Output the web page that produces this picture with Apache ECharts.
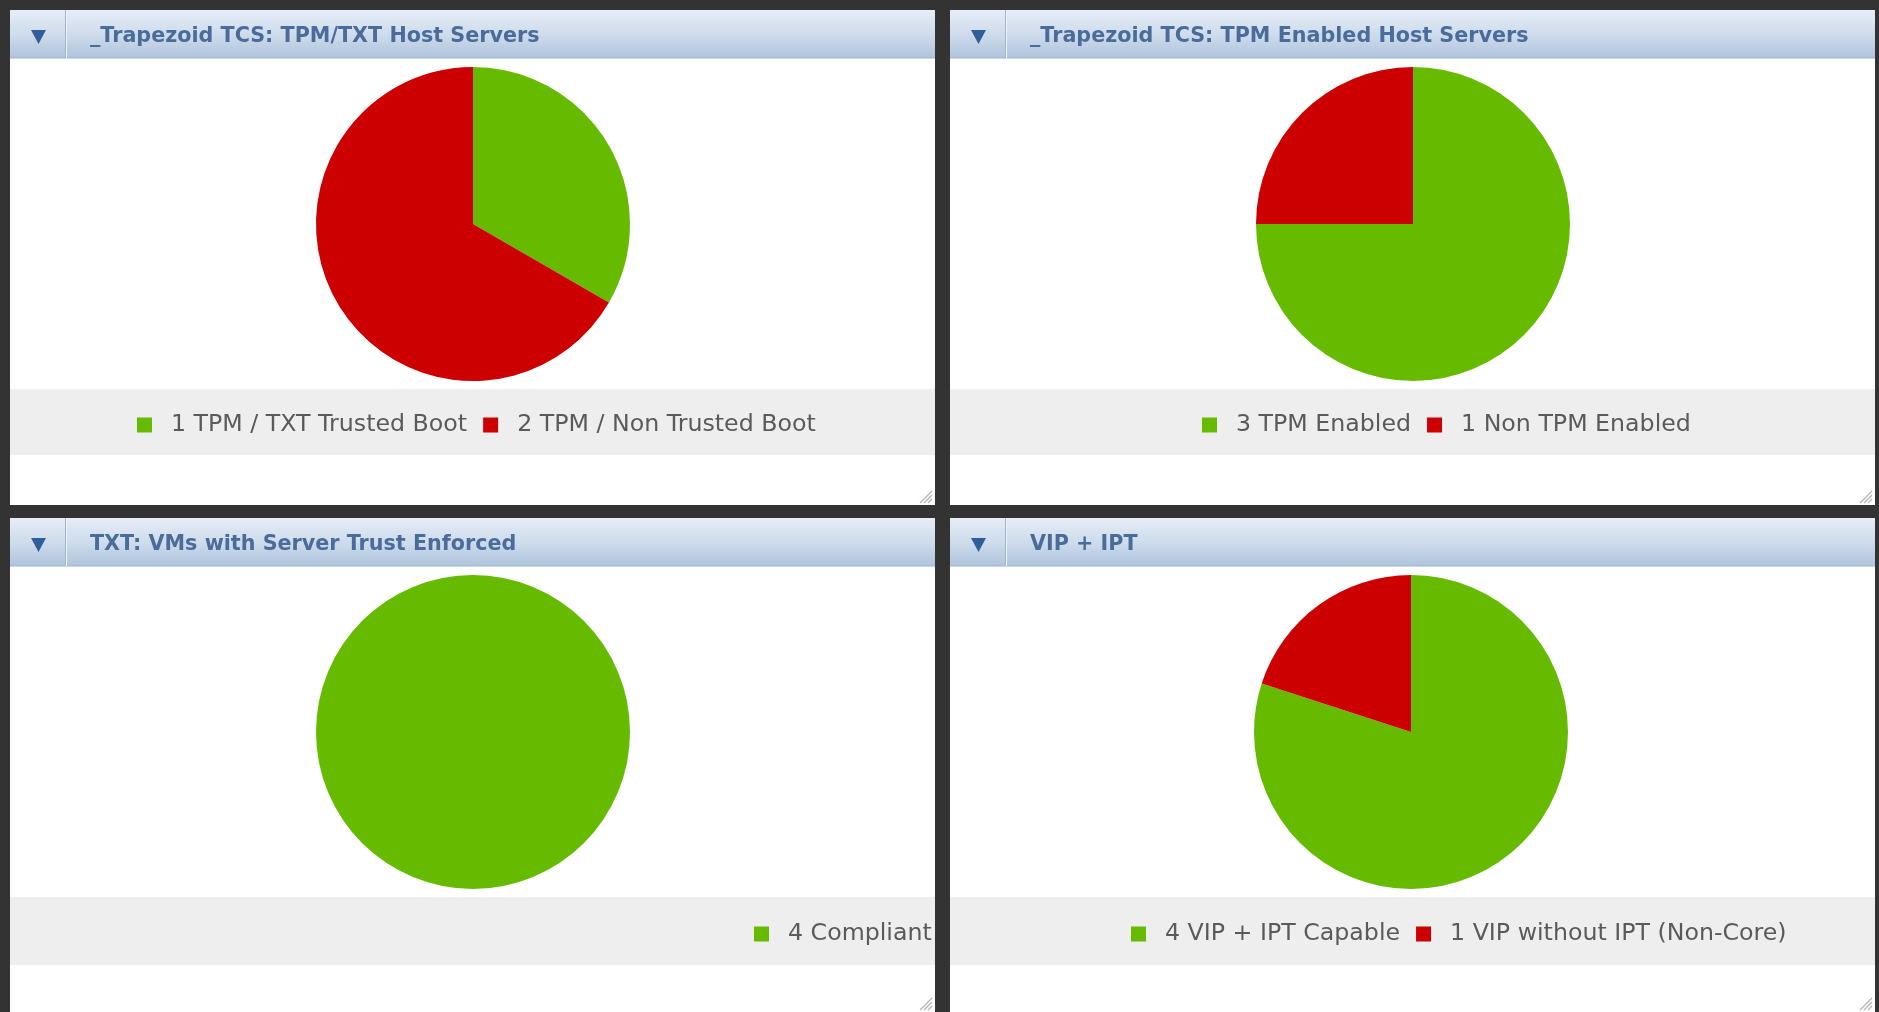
<!DOCTYPE html>
<html>
<head>
<meta charset="utf-8">
<script src="https://cdn.jsdelivr.net/npm/echarts@6/dist/echarts.min.js"></script>
<style>
html,body{margin:0;padding:0;background:#333333;}
#c{width:1879px;height:1012px;}
</style>
</head>
<body>
<div id="c"></div>
<script>
// ---- data ----
const panelTitles = ['_Trapezoid TCS: TPM/TXT Host Servers', '_Trapezoid TCS: TPM Enabled Host Servers', 'TXT: VMs with Server Trust Enforced', 'VIP + IPT'];
const chart1Names = ['TPM / TXT Trusted Boot', 'TPM / Non Trusted Boot'];
const chart1Values = [1, 2];
const chart2Names = ['TPM Enabled', 'Non TPM Enabled'];
const chart2Values = [3, 1];
const chart3Names = ['Compliant'];
const chart3Values = [4];
const chart4Names = ['VIP + IPT Capable', 'VIP without IPT (Non-Core)'];
const chart4Values = [4, 1];
const sliceColors = ['#66bb00', '#cc0000'];

const allNames = [chart1Names, chart2Names, chart3Names, chart4Names];
const allValues = [chart1Values, chart2Values, chart3Values, chart4Values];

// ---- layout ----
const panels = [
  {x: 10, y: 10, w: 925, h: 495},
  {x: 950, y: 10, w: 925, h: 495},
  {x: 10, y: 518, w: 925, h: 500},
  {x: 950, y: 518, w: 925, h: 500}
];
const titleH = 48;
const legendBand = [{y: 389, h: 66}, {y: 389, h: 66}, {y: 897, h: 68}, {y: 897, h: 68}];
const pieCenters = [[473, 224], [1413, 224], [473, 732], [1411, 732]];
const legendLeft = [137, 1202, 754, 1131];
const legendTop = [413, 413, 922, 922];
const pieR = 157;

const graphics = [];
panels.forEach((p, i) => {
  graphics.push({type: 'rect', shape: {x: p.x, y: p.y, width: p.w, height: p.h}, style: {fill: '#ffffff'}, silent: true});
  graphics.push({type: 'rect', shape: {x: p.x, y: p.y, width: p.w, height: titleH},
    style: {fill: new echarts.graphic.LinearGradient(0, 0, 0, 1, [{offset: 0, color: '#e6edf6'}, {offset: 0.5, color: '#cfdcec'}, {offset: 1, color: '#afc4dd'}])}, silent: true});
  graphics.push({type: 'line', shape: {x1: p.x, y1: p.y + titleH, x2: p.x + p.w, y2: p.y + titleH}, style: {stroke: '#9fb3cb', lineWidth: 1}, silent: true});
  graphics.push({type: 'line', shape: {x1: p.x + 55.5, y1: p.y, x2: p.x + 55.5, y2: p.y + titleH}, style: {stroke: '#9fb4cd', lineWidth: 1}, silent: true});
  graphics.push({type: 'line', shape: {x1: p.x + 56.5, y1: p.y, x2: p.x + 56.5, y2: p.y + titleH}, style: {stroke: '#eef3f9', lineWidth: 1}, silent: true});
  graphics.push({type: 'polygon', shape: {points: [[p.x + 21, p.y + 20], [p.x + 36, p.y + 20], [p.x + 28.5, p.y + 34]]}, style: {fill: '#2f5e98'}, silent: true});
  const lb = legendBand[i];
  graphics.push({type: 'rect', shape: {x: p.x, y: lb.y, width: p.w, height: lb.h}, style: {fill: '#eeeeee'}, silent: true});
  // resize grip
  const gx = p.x + p.w - 3, gy = (i < 2 ? 503 : 1010);
  [4, 8, 12].forEach(d => {
    graphics.push({type: 'line', shape: {x1: gx - d, y1: gy, x2: gx, y2: gy - d}, style: {stroke: '#b5b5b5', lineWidth: 1.2}, silent: true});
  });
});

const titles = panels.map((p, i) => ({
  text: panelTitles[i], left: p.x + 80, top: p.y + 16, padding: 0,
  textStyle: {fontFamily: 'DejaVu Sans', fontWeight: 'bold', fontSize: 20.7, color: '#4a6c9b'}
}));

const legends = allNames.map((names, i) => ({
  data: names, orient: 'horizontal', left: legendLeft[i], top: legendTop[i], padding: 0,
  icon: 'rect', itemWidth: 15, itemHeight: 15, itemGap: 16,
  selectedMode: false,
  formatter: name => allValues[i][names.indexOf(name)] + ' ' + name,
  textStyle: {fontFamily: 'DejaVu Sans', fontSize: 23.7, color: '#5a5a5a', padding: [0, 0, 0, 14]}
}));

const series = allNames.map((names, i) => ({
  type: 'pie', radius: pieR, center: pieCenters[i], startAngle: 90, clockwise: true,
  label: {show: false}, labelLine: {show: false}, silent: true,
  emphasis: {scale: false},
  itemStyle: {borderWidth: 0},
  color: sliceColors,
  data: names.map((n, k) => ({name: n, value: allValues[i][k], itemStyle: {color: sliceColors[k]}}))
}));

const chart = echarts.init(document.getElementById('c'), null, {renderer: 'canvas'});
chart.setOption({
  backgroundColor: '#333333',
  animation: false,
  graphic: {elements: graphics},
  title: titles,
  legend: legends,
  series: series
});
</script>
</body>
</html>
